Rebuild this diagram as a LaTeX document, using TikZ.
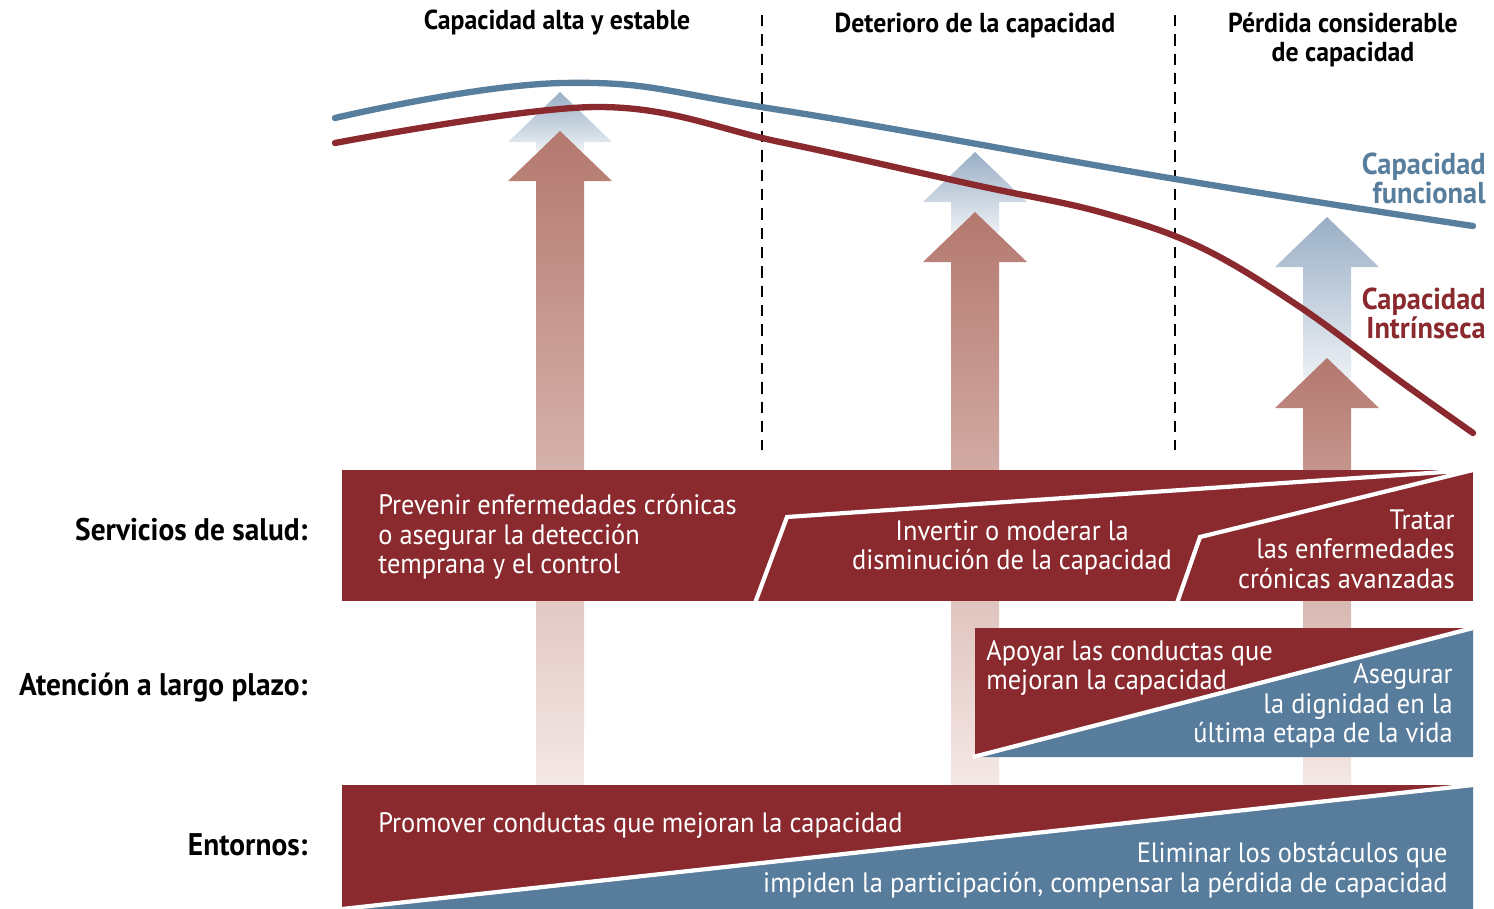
\documentclass[tikz,border=0pt]{standalone}
\usepackage{fontspec}
\setmainfont{PT Sans}[FakeStretch=0.94]
\usetikzlibrary{positioning}

\definecolor{wine}{RGB}{138,42,46}
\definecolor{steel}{RGB}{87,124,156}
\definecolor{curveblue}{RGB}{88,126,158}
\definecolor{arrred}{RGB}{180,120,110}
\definecolor{arrredlt}{RGB}{244,232,229}
\definecolor{arrblue}{RGB}{154,175,197}
\definecolor{arrbluelt}{RGB}{236,240,245}

\begin{document}
\begin{tikzpicture}[
    x=0.02cm, y=-0.02cm,
    font=\fontsize{16}{16.8}\selectfont,
    phase/.style={font=\fontsize{15.6}{16.4}\selectfont\bfseries, align=center, inner sep=0pt},
    level/.style={font=\fontsize{17.8}{20}\selectfont\bfseries, anchor=east, inner sep=0pt},
    curvelbl/.style={font=\fontsize{17.2}{16.5}\selectfont\bfseries, anchor=east, align=right, inner sep=0pt},
    intext/.style={text=white, inner sep=0pt},
    sep/.style={draw=white, line width=2.4pt},
    divider/.style={draw=black, line width=1.1pt, dash pattern=on 6.5pt off 4.5pt},
    upblue/.style={top color=arrblue, bottom color=arrbluelt},
    upred/.style={top color=arrred, bottom color=arrredlt},
    curve/.style={line width=3.6pt, line cap=round}
  ]
    \useasboundingbox (0,0) rectangle (1494,909);

    % phases
    \node[phase] (high) at (557,23) {Capacidad alta y estable};
    \node[phase] (decl) at (975,25) {Deterioro de la capacidad};
    \node[phase] (loss) at (1343,40) {Pérdida considerable\\de capacidad};
    \draw[divider] (762,15) -- (762,450);
    \draw[divider] (1175,15) -- (1175,450);

    % arrows
    \foreach \ax/\bt/\rt in {560/92/131, 975/152/212, 1327/217/358}{
      \path[upblue] (\ax,\bt) -- (\ax+52,\bt+50) -- (\ax+24,\bt+50) -- (\ax+24,\rt+20)
        -- (\ax-24,\rt+20) -- (\ax-24,\bt+50) -- (\ax-52,\bt+50) -- cycle;
      \path[upred] (\ax,\rt) -- (\ax+52,\rt+50) -- (\ax+24,\rt+50) -- (\ax+24,785)
        -- (\ax-24,785) -- (\ax-24,\rt+50) -- (\ax-52,\rt+50) -- cycle;
    }

    % curves
    \draw[curve, curveblue] plot[smooth, tension=0.7] coordinates {(335,118) (563,83)
      (780,110) (1175,179) (1473,226)};
    \draw[curve, wine] plot[smooth, tension=0.6] coordinates {(335,143) (597,107)
      (780,142) (975,185) (1100,212) (1200,247) (1300,307) (1400,381) (1473,433)};
    \node[curvelbl, text=curveblue] (func) at (1486,178) {Capacidad\\funcional};
    \node[curvelbl, text=wine] (intr) at (1486,313) {Capacidad\\Intrínseca};

    % health services
    \fill[wine] (342,470) rectangle (1473,601);
    \draw[sep] (755,603) -- (787,517) -- (1473,470);
    \draw[sep] (1177,603) -- (1200,537) -- (1473,470);
    \node[intext, anchor=west, align=left] (prev) at (378,537)
      {Prevenir enfermedades crónicas\\o asegurar la detección\\temprana y el control};
    \node[intext, align=center] (invt) at (1012,548)
      {Invertir o moderar la\\disminución de la capacidad};
    \node[intext, anchor=east, align=right] (trat) at (1455,549)
      {Tratar\\las enfermedades\\crónicas avanzadas};

    % long-term care
    \fill[wine] (975,628) rectangle (1473,757);
    \fill[steel] (975,757) -- (1473,628) -- (1473,757) -- cycle;
    \draw[sep] (973,757) -- (1473,628);
    \node[intext, anchor=west, align=left] (supp) at (986,668)
      {Apoyar las conductas que\\mejoran la capacidad};
    \node[intext, anchor=east, align=right] (dign) at (1453,706)
      {Asegurar\\la dignidad en la\\última etapa de la vida};

    % environments
    \fill[wine] (342,785) rectangle (1473,909);
    \fill[steel] (342,909) -- (1473,785) -- (1473,909) -- cycle;
    \draw[sep] (342,909) -- (1473,785);
    \node[intext, anchor=west] (prom) at (378,826) {Promover conductas que mejoran la capacidad};
    \node[intext, anchor=east, align=right] (elim) at (1448,870)
      {Eliminar los obstáculos que\\impiden la participación, compensar la pérdida de capacidad};

    % row labels
    \node[level] (serv) at (308,530) {Servicios de salud:};
    \node[level] (care) at (308,688) {Atención a largo plazo:};
    \node[level] (envr) at (308,845) {Entornos:};
\end{tikzpicture}
\end{document}
